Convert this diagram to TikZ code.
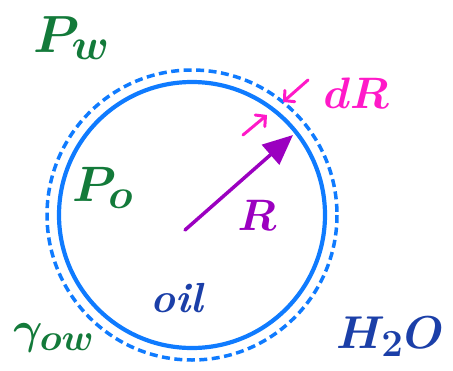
\documentclass[tikz,border=0pt]{standalone}
\usetikzlibrary{arrows.meta,positioning}
\definecolor{ringblue}{HTML}{0F7BFF}
\definecolor{labelgreen}{HTML}{137A3A}
\definecolor{radpurple}{HTML}{9B00C0}
\definecolor{drmagenta}{HTML}{FF19C8}
\definecolor{inkblue}{HTML}{1B3FA8}
\tikzset{
  label text/.style={inner sep=0pt, font=\Huge\boldmath},
  dr arrow/.style={drmagenta, line width=3pt, line cap=round, -{Straight Barb[length=7pt,width=15pt,line cap=round]}}
}

\begin{document}
\begin{tikzpicture}[x=1pt,y=-1pt]
\useasboundingbox (0,0) rectangle (453,370);
\coordinate (centre) at (192,215);
\draw[ringblue, line width=4.2pt] (centre) circle[radius=133];
\draw[ringblue, line width=3.5pt, dash pattern=on 8pt off 4.5pt] (centre) circle[radius=145];
\coordinate (tail) at (185,230);
\coordinate (tip) at (293,135);
\draw[radpurple, line width=3.5pt, line cap=round, -{Triangle[length=30pt,width=26pt]}] (tail) -- (tip);
\coordinate (outer start) at (308,80);
\coordinate (outer end) at (283,102);
\coordinate (inner start) at (243,135);
\coordinate (inner end) at (267,115);
\draw[dr arrow] (outer start) -- (outer end);
\draw[dr arrow] (inner start) -- (inner end);
\node[label text, scale=2.1] (pw) at (72,38) {\color{labelgreen}$P_w$};
\node[label text, scale=2.0] (po) at (103,188) {\color{labelgreen}$P_o$};
\node[label text, scale=1.77] (rlabel) at (257,215) {\color{radpurple}$R$};
\node[label text, scale=1.77] (drlabel) at (356,93) {\color{drmagenta}$dR$};
\node[label text, scale=1.69] (oil) at (177,298) {\color{inkblue}\bfseries\itshape oil};
\node[label text, scale=1.8] (gow) at (54,338) {\color{labelgreen}$\gamma_{ow}$};
\node[label text, scale=1.85] (water) at (390,337) {\color{inkblue}$H_2O$};
\end{tikzpicture}
\end{document}
